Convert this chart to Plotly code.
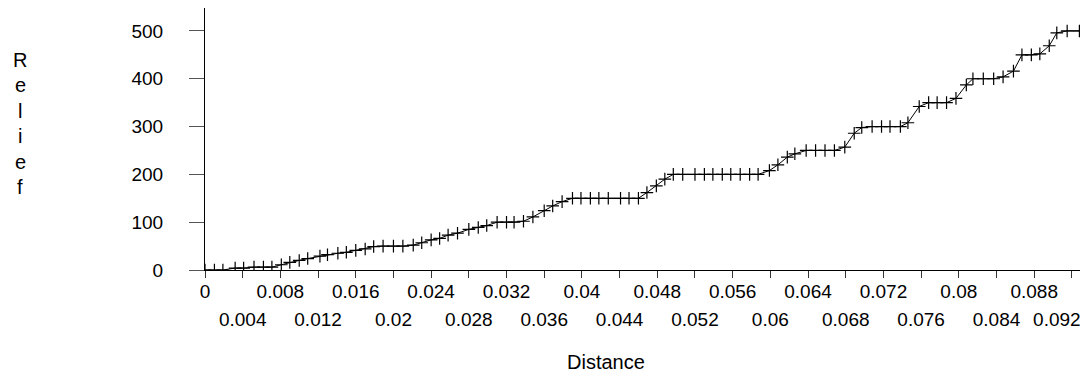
import plotly.graph_objects as go

# ---- data ----
distance = [0.0000, 0.0010, 0.0019, 0.0032, 0.0041, 0.0052, 0.0062, 0.0071, 0.0081, 0.0090,
            0.0100, 0.0109, 0.0122, 0.0130, 0.0141, 0.0150, 0.0160, 0.0170, 0.0179, 0.0189,
            0.0200, 0.0210, 0.0221, 0.0230, 0.0240, 0.0249, 0.0258, 0.0268, 0.0280, 0.0290,
            0.0299, 0.0310, 0.0320, 0.0328, 0.0338, 0.0348, 0.0360, 0.0369, 0.0379, 0.0390,
            0.0399, 0.0409, 0.0418, 0.0428, 0.0441, 0.0450, 0.0460, 0.0469, 0.0479, 0.0488,
            0.0497, 0.0507, 0.0520, 0.0530, 0.0539, 0.0549, 0.0558, 0.0568, 0.0578, 0.0587,
            0.0599, 0.0608, 0.0618, 0.0626, 0.0638, 0.0648, 0.0658, 0.0668, 0.0679, 0.0689,
            0.0697, 0.0708, 0.0718, 0.0727, 0.0738, 0.0746, 0.0758, 0.0768, 0.0777, 0.0787,
            0.0797, 0.0808, 0.0815, 0.0826, 0.0837, 0.0847, 0.0858, 0.0867, 0.0877, 0.0886,
            0.0896, 0.0904, 0.0915, 0.0928]
relief = [0, 0, 0, 4, 4, 6, 6, 6, 11, 16,
          20, 24, 29, 32, 35, 37, 41, 44, 49, 50,
          50, 50, 52, 57, 63, 66, 73, 77, 85, 89,
          93, 100, 100, 100, 102, 111, 124, 134, 143, 150,
          150, 150, 150, 150, 150, 150, 150, 162, 176, 190,
          200, 200, 200, 200, 200, 200, 200, 200, 200, 200,
          208, 220, 236, 243, 250, 250, 250, 250, 257, 286,
          298, 300, 300, 300, 300, 308, 342, 350, 350, 350,
          359, 387, 400, 400, 400, 404, 416, 450, 450, 452,
          469, 496, 500, 500]

x_tick_values = [0, 0.004, 0.008, 0.012, 0.016, 0.02, 0.024, 0.028, 0.032, 0.036, 0.04, 0.044,
                 0.048, 0.052, 0.056, 0.06, 0.064, 0.068, 0.072, 0.076, 0.08, 0.084, 0.088, 0.092]
x_tick_labels = ["0", "0.004", "0.008", "0.012", "0.016", "0.02", "0.024", "0.028", "0.032",
                 "0.036", "0.04", "0.044", "0.048", "0.052", "0.056", "0.06", "0.064", "0.068",
                 "0.072", "0.076", "0.08", "0.084", "0.088", "0.092"]
y_tick_values = [0, 100, 200, 300, 400, 500]
y_tick_labels = ["0", "100", "200", "300", "400", "500"]
x_title = "Distance"
y_title = "Relief"

FONT = "Liberation Sans, Arial, sans-serif"
TICK_SIZE = 19
X_RANGE = [0, 0.0935]
Y_RANGE = [0, 548]

# page body has an 8px margin, so the figure is drawn 8px smaller than the window
W, H = 1080, 371
ML, MR, MT, MB = 197, 2, 0, 109
PW, PH = W - ML - MR, H - MT - MB


def px_to_paper_x(px):
    return (px - 8 - ML) / PW


def px_to_paper_y(py):
    return (MT + PH - (py - 8)) / PH


fig = go.Figure()
fig.add_trace(go.Scatter(
    x=distance, y=relief, mode="lines+markers",
    line=dict(color="black", width=1),
    marker=dict(symbol="cross-thin", size=9, line=dict(color="black", width=1.2)),
    showlegend=False, hoverinfo="skip",
))
# invisible copies on the overlaid axes that carry the second row of labels
for ax in ("x2", "x3"):
    fig.add_trace(go.Scatter(
        x=distance, y=relief, mode="lines", xaxis=ax, yaxis="y",
        line=dict(color="rgba(0,0,0,0)", width=0),
        showlegend=False, hoverinfo="skip",
    ))

row2_vals = x_tick_values[1::2]
row2_text = x_tick_labels[1::2]

annotations = []
for i, ch in enumerate(y_title):
    py = 60 + i * 25.4
    annotations.append(dict(text=ch, xref="paper", yref="paper",
                            x=px_to_paper_x(20), y=px_to_paper_y(py),
                            xanchor="center", yanchor="middle", showarrow=False,
                            font=dict(family=FONT, size=20, color="black")))
annotations.append(dict(text=x_title, xref="paper", yref="paper",
                        x=px_to_paper_x(606), y=px_to_paper_y(362),
                        xanchor="center", yanchor="middle", showarrow=False,
                        font=dict(family=FONT, size=20, color="black")))

row2_axis = dict(range=X_RANGE, overlaying="x", side="bottom", anchor="y", automargin=False,
                 showgrid=False, zeroline=False, showline=False, ticks="",
                 tickmode="array",
                 tickfont=dict(family=FONT, size=TICK_SIZE, color="black"),
                 ticklabelstandoff=36, ticklabeloverflow="allow")

fig.update_layout(
    width=W, height=H,
    margin=dict(l=ML, r=MR, t=MT, b=MB, autoexpand=False),
    paper_bgcolor="white", plot_bgcolor="white",
    font=dict(family=FONT, size=TICK_SIZE, color="black"),
    xaxis=dict(range=X_RANGE, showgrid=False, zeroline=False, automargin=False,
               showline=True, linecolor="black", linewidth=1,
               ticks="outside", ticklen=7, tickcolor="#333", tickwidth=1,
               tickmode="array", tickvals=x_tick_values,
               ticktext=[t if i % 2 == 0 else "" for i, t in enumerate(x_tick_labels)],
               tickfont=dict(family=FONT, size=TICK_SIZE, color="black"),
               ticklabelstandoff=-3),
    xaxis2=dict(row2_axis, tickvals=row2_vals[:-1], ticktext=row2_text[:-1]),
    # the last label is pushed left in the reference so that it fits in the picture
    xaxis3=dict(row2_axis, tickvals=row2_vals[-1:], ticktext=row2_text[-1:],
                ticklabelshift=-15),
    yaxis=dict(range=Y_RANGE, showgrid=False, zeroline=False, automargin=False,
               showline=True, linecolor="black", linewidth=1,
               ticks="outside", ticklen=15, tickcolor="#555", tickwidth=1,
               tickmode="array", tickvals=y_tick_values, ticktext=y_tick_labels,
               tickfont=dict(family=FONT, size=TICK_SIZE, color="black"),
               ticklabelstandoff=22),
    annotations=annotations,
)

fig.write_html("out.html")
